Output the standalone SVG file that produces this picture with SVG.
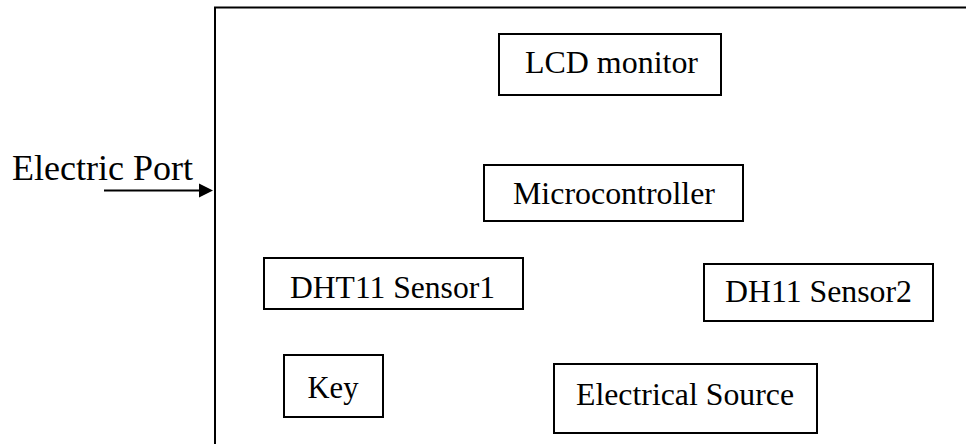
<svg xmlns="http://www.w3.org/2000/svg" width="966" height="444" viewBox="0 0 966 444">
<style>
.box{fill:#fff;stroke:#000;stroke-width:2}
.t{font-family:"Liberation Serif","Times New Roman",Times,serif;font-size:32px;fill:#000}
.ln{fill:none;stroke:#000;stroke-width:2}
</style>
<rect width="966" height="444" fill="#fff"/>
<g id="enclosure">
<path class="ln" d="M215,444 V7.5 H966"/>
</g>
<g id="connectors">
<line x1="104" y1="190.5" x2="199" y2="190.5" stroke="#000" stroke-width="2"/>
<path d="M199,183.5 L213,190.5 L199,197.5 Z" fill="#000"/>
</g>
<g id="electric-port">
<text class="t" x="12" y="180" style="font-size:36px" textLength="181" lengthAdjust="spacingAndGlyphs">Electric Port</text>
</g>
<g id="lcd">
<rect class="box" x="499" y="34" width="222" height="61"/>
<text class="t" x="525" y="73" textLength="173" lengthAdjust="spacingAndGlyphs">LCD monitor</text>
</g>
<g id="micro">
<rect class="box" x="484" y="165" width="259" height="56"/>
<text class="t" x="513" y="204" textLength="202" lengthAdjust="spacingAndGlyphs">Microcontroller</text>
</g>
<g id="dht1">
<rect class="box" x="264" y="258" width="259" height="51"/>
<text class="t" x="290" y="298" textLength="205" lengthAdjust="spacingAndGlyphs">DHT11 Sensor1</text>
</g>
<g id="dht2">
<rect class="box" x="704" y="264" width="229" height="57"/>
<text class="t" x="725" y="302" textLength="187" lengthAdjust="spacingAndGlyphs">DH11 Sensor2</text>
</g>
<g id="key">
<rect class="box" x="284" y="355" width="99" height="62"/>
<text class="t" x="307.5" y="398" textLength="51" lengthAdjust="spacingAndGlyphs">Key</text>
</g>
<g id="source">
<rect class="box" x="554" y="364" width="263" height="69"/>
<text class="t" x="576" y="405" textLength="218" lengthAdjust="spacingAndGlyphs">Electrical Source</text>
</g>
</svg>
